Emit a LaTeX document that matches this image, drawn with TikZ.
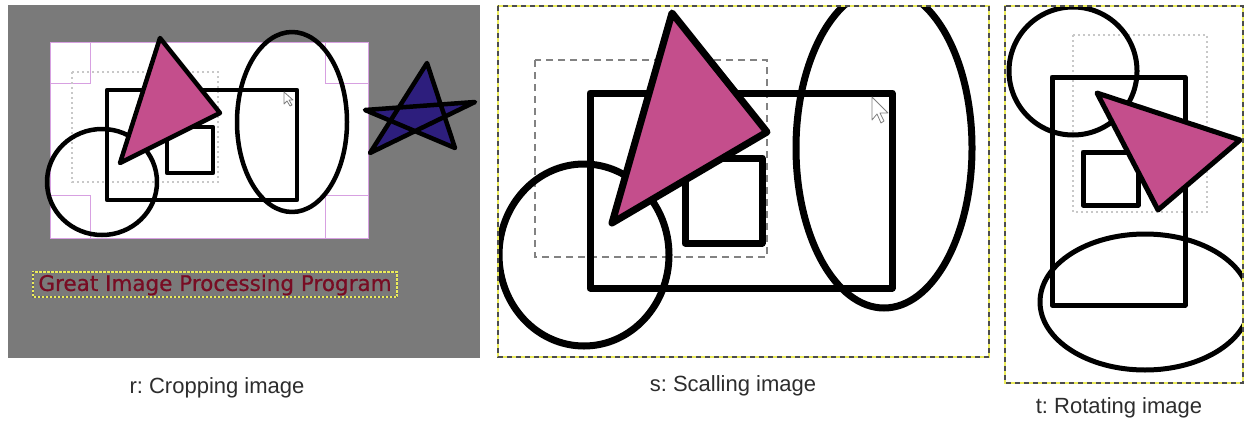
\documentclass[tikz,border=0pt]{standalone}
\usepackage{fontspec}
\setmainfont{Liberation Sans}
\newfontfamily\djv[FakeBold=0.6]{DejaVu Sans}
\frenchspacing
\definecolor{bggray}{RGB}{122,122,122}
\definecolor{pinkfill}{RGB}{196,78,140}
\definecolor{starblue}{RGB}{45,30,125}
\definecolor{guidepurple}{RGB}{215,160,225}
\definecolor{lightdot}{RGB}{200,200,200}
\definecolor{midgray}{RGB}{130,130,130}
\definecolor{antyellow}{RGB}{235,235,90}
\definecolor{darkred}{RGB}{120,12,35}
\definecolor{captext}{RGB}{45,45,45}
\tikzset{
  shapeA/.style={draw=black,line width=4.5pt,line join=round},
  shapeB/.style={draw=black,line width=7pt,line join=round},
  shapeC/.style={draw=black,line width=5pt,line join=round},
  guide/.style={draw=guidepurple,line width=1pt},
  dotbox/.style={draw=lightdot,line width=2pt,dash pattern=on 2pt off 3pt},
  dashbox/.style={draw=midgray,line width=2.5pt,dash pattern=on 7pt off 5pt},
  antsbase/.style={draw=antyellow,line width=1.5pt},
  ants/.style={draw=black!70,line width=1.5pt,dash pattern=on 5pt off 4pt},
  cursorstyle/.style={draw=gray,fill=white,line width=0.8pt,line join=round},
  captionstyle/.style={font=\fontsize{22}{24}\selectfont,text=captext,inner sep=0pt}
}
\begin{document}
\begin{tikzpicture}[x=1pt,y=-1pt]
\useasboundingbox (0,0) rectangle (1246,423);
\fill[white] (0,0) rectangle (1246,423);
% ---------- panel r ----------
\fill[bggray] (8,5) rectangle (480,358);
\fill[white] (50,42) rectangle (368,238);
\draw[guide] (50,42) rectangle (368,238);
\draw[guide] (90,42) -- (90,83) -- (50,83);
\draw[guide] (325,42) -- (325,83) -- (368,83);
\draw[guide] (50,195) -- (90,195) -- (90,238);
\draw[guide] (368,195) -- (325,195) -- (325,238);
\draw[dotbox] (72,72) rectangle (218,182);
\draw[shapeA] (107,90) rectangle (297,200);
\draw[shapeA] (167,127) rectangle (213,173);
\draw[shapeA] (102,182) ellipse [x radius=55pt, y radius=53pt];
\draw[shapeA,fill=pinkfill] (160,38) -- (220,113) -- (120,163) -- cycle;
\draw[shapeA] (292,122) ellipse [x radius=55pt, y radius=90pt];
\draw[shapeA,fill=starblue] (427,63) -- (370,153) -- (475,102) -- (365,110) -- (455,148) -- cycle;
\draw[cursorstyle] (284,92) -- (284,104) -- (287,101) -- (290,106) -- (292,105) -- (289,100) -- (293,100) -- cycle;
\draw[antsbase] (33,272) rectangle (397,297);
\draw[black!60,line width=1.5pt,dash pattern=on 1.5pt off 2.5pt] (33,272) rectangle (397,297);
\node[inner sep=0pt,text=darkred,font=\djv\fontsize{21.5}{24}\selectfont] (gtext) at (215,285) {Great Image Processing Program};
\node[captionstyle] (capr) at (217,388) {r: Cropping image};
% ---------- panel s ----------
\begin{scope}
\clip (498,6) rectangle (989,357);
\draw[dashbox] (535,60) rectangle (767,257);
\draw[shapeB] (590,93) rectangle (892,288);
\draw[shapeB] (685,158) rectangle (762,243);
\draw[shapeB] (584,255) ellipse [x radius=85pt, y radius=91pt];
\draw[shapeB,fill=pinkfill] (672,13) -- (767,132) -- (612,223) -- cycle;
\draw[shapeB] (884,148) ellipse [x radius=88pt, y radius=160pt];
\draw[cursorstyle] (872,97) -- (872,120) -- (877,114) -- (881,123) -- (884,121) -- (880,113) -- (888,113) -- cycle;
\end{scope}
\draw[antsbase] (498,6) rectangle (989,357);
\draw[ants] (498,6) rectangle (989,357);
\node[captionstyle] (caps) at (733,386) {s: Scalling image};
% ---------- panel t ----------
\begin{scope}
\clip (1005,6) rectangle (1243,383);
\draw[dotbox] (1073,35) rectangle (1207,212);
\draw[shapeC] (1052,77) rectangle (1185,305);
\draw[shapeC] (1083,152) rectangle (1138,205);
\draw[shapeC] (1073,71) circle [radius=64pt];
\draw[shapeC,fill=pinkfill] (1097,93) -- (1240,140) -- (1158,210) -- cycle;
\draw[shapeC] (1145,302) ellipse [x radius=105pt, y radius=68pt];
\end{scope}
\draw[antsbase] (1005,6) rectangle (1243,383);
\draw[ants] (1005,6) rectangle (1243,383);
\node[captionstyle] (capt) at (1119,408) {t: Rotating image};
\end{tikzpicture}
\end{document}
